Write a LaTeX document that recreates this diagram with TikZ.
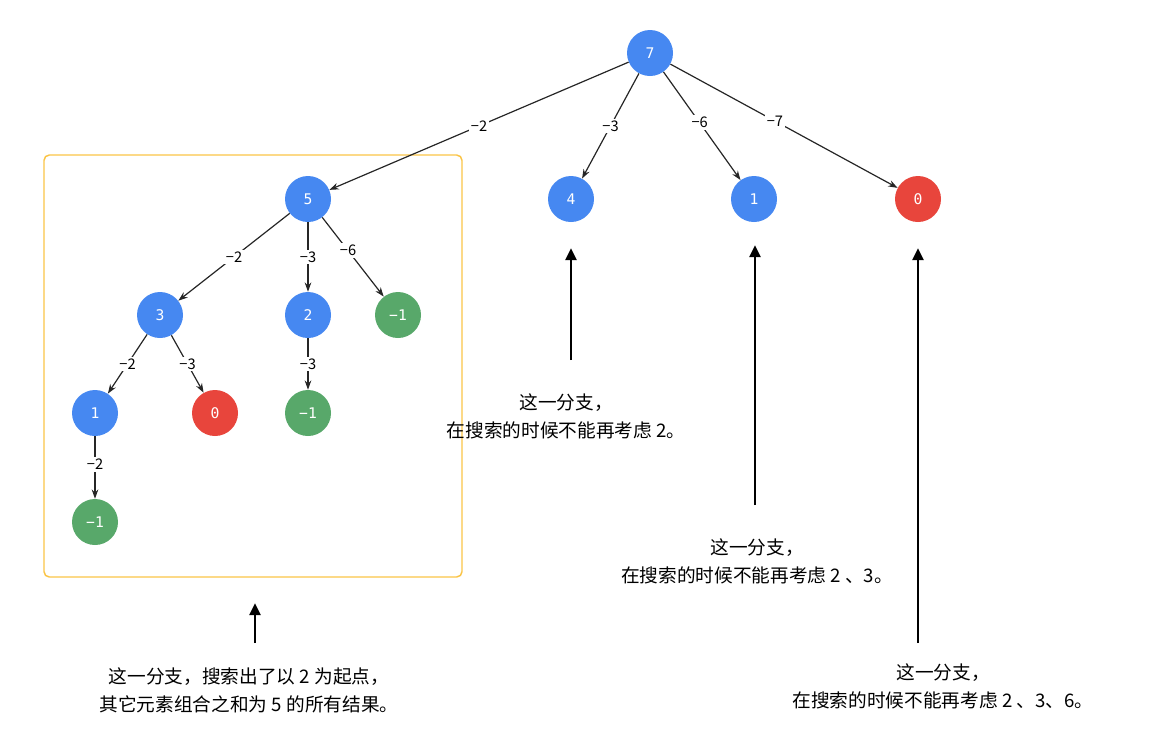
\documentclass[tikz,border=0pt]{standalone}
\usepackage{fontspec}
\setmainfont{Noto Sans CJK SC}
\newfontfamily\monofont{DejaVu Sans Mono}
\usetikzlibrary{arrows.meta}
\definecolor{nodeblue}{RGB}{70,136,241}
\definecolor{nodered}{RGB}{232,69,60}
\definecolor{nodegreen}{RGB}{88,168,106}
\definecolor{boxorange}{RGB}{250,196,70}
\tikzset{
	num/.style={circle, minimum size=34.5pt, inner sep=0pt, text=white, font=\monofont\fontsize{11}{11}\selectfont},
	bluenum/.style={num, fill=nodeblue},
	rednum/.style={num, fill=nodered},
	greennum/.style={num, fill=nodegreen},
	tedge/.style={draw=black!85, line width=0.9pt, -{Stealth[length=7pt,width=5pt]}},
	elabel/.style={fill=white, inner sep=1.5pt, font=\fontsize{11}{11}\selectfont},
	bigarrow/.style={line width=2.2pt, -{Triangle[length=9pt,width=8pt]}},
	note/.style={align=center, inner sep=0pt, font=\fontsize{14}{21}\selectfont}
}
\begin{document}
\begin{tikzpicture}[x=0.75pt,y=0.75pt,yscale=-1,xscale=1]
	\useasboundingbox (0,0) rectangle (1163,747);
	%Shape: Rounded Rectangle
	\draw [boxorange, line width=1.1pt, rounded corners=4pt] (44,155) rectangle (462,577);
	% Tree nodes
	\node [bluenum] (n7) at (650,53) {7};
	\node [bluenum] (n5) at (308,199) {5};
	\node [bluenum] (n4) at (571,199) {4};
	\node [bluenum] (n1a) at (754,199) {1};
	\node [rednum] (n0a) at (918,199) {0};
	\node [bluenum] (n3) at (160,315) {3};
	\node [bluenum] (n2) at (308,315) {2};
	\node [greennum] (m1a) at (398,315) {−1};
	\node [bluenum] (n1b) at (95,413) {1};
	\node [rednum] (n0b) at (215,413) {0};
	\node [greennum] (m1b) at (308,413) {−1};
	\node [greennum] (m1c) at (95,522) {−1};
	% Edges
	\draw [tedge] (n7) -- node [elabel] {−2} (n5);
	\draw [tedge] (n7) -- node [elabel] {−3} (n4);
	\draw [tedge] (n7) -- node [elabel, pos=0.47] {−6} (n1a);
	\draw [tedge] (n7) -- node [elabel, pos=0.46] {−7} (n0a);
	\draw [tedge] (n5) -- node [elabel] {−2} (n3);
	\draw [tedge] (n5) -- node [elabel] {−3} (n2);
	\draw [tedge] (n5) -- node [elabel, pos=0.42] {−6} (m1a);
	\draw [tedge] (n3) -- node [elabel] {−2} (n1b);
	\draw [tedge] (n3) -- node [elabel] {−3} (n0b);
	\draw [tedge] (n2) -- node [elabel] {−3} (m1b);
	\draw [tedge] (n1b) -- node [elabel, pos=0.45] {−2} (m1c);
	% Text Node
	\node [note] (note4) at (566,416) {这一分支，\\在搜索的时候不能再考虑 2。};
	% Text Node
	\node [note] (note1) at (757,561) {这一分支，\\在搜索的时候不能再考虑 2 、3。};
	% Text Node
	\node [note] (note0) at (943,686) {这一分支，\\在搜索的时候不能再考虑 2 、3、6。};
	% Text Node
	\node [note] (notebox) at (249,690) {这一分支，搜索出了以 2 为起点，\\其它元素组合之和为 5 的所有结果。};
	% Pointer arrows
	\coordinate (p4s) at (571,360);
	\coordinate (p4e) at (571,248);
	\coordinate (p1s) at (755,505);
	\coordinate (p1e) at (755,245);
	\coordinate (p0s) at (918,643);
	\coordinate (p0e) at (918,248);
	\coordinate (pbs) at (255,643);
	\coordinate (pbe) at (255,603);
	\draw [bigarrow] (p4s) -- (p4e);
	\draw [bigarrow] (p1s) -- (p1e);
	\draw [bigarrow] (p0s) -- (p0e);
	\draw [bigarrow] (pbs) -- (pbe);
\end{tikzpicture}
\end{document}
